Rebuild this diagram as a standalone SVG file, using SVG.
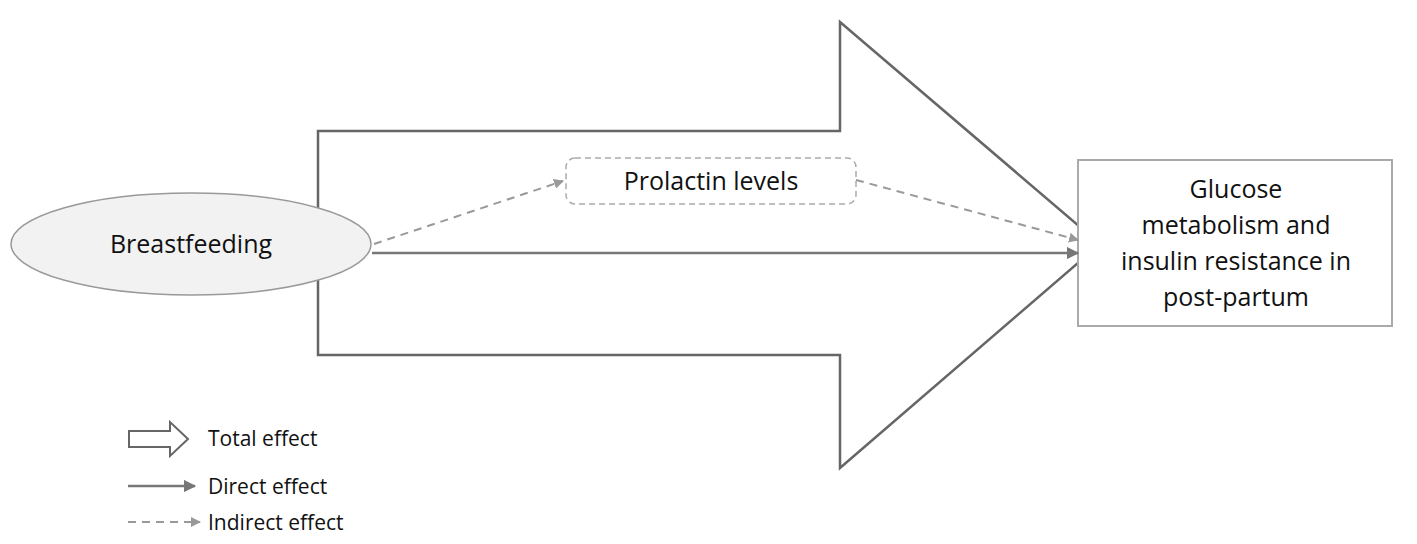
<svg xmlns="http://www.w3.org/2000/svg" width="1417" height="544" viewBox="0 0 1417 544">
<style>
text{font-family:"Open Sans","Liberation Sans",sans-serif;fill:#111}
.big{fill:#fff;stroke:#666;stroke-width:2.5}
.ln{stroke:#777;stroke-width:2.5;fill:none}
.ds{stroke:#999;stroke-width:2;stroke-dasharray:8 6;fill:none}
</style>
<defs>
<marker id="a" viewBox="0 0 10 10" refX="9" refY="5" markerWidth="5" markerHeight="5" orient="auto"><path d="M0,0L10,5L0,10z" fill="#777"/></marker>
<marker id="b" viewBox="0 0 10 10" refX="9" refY="5" markerWidth="5" markerHeight="5" orient="auto"><path d="M0,0L10,5L0,10z" fill="#999"/></marker>
</defs>
<g id="total-arrow"><path class="big" d="M318,131H840V22L1100,244L840,468V355H318Z"/></g>
<g id="breastfeeding"><ellipse cx="191" cy="244" rx="180" ry="51" fill="#f2f2f2" stroke="#999" stroke-width="1.5"/><text x="191" y="253" font-size="25" text-anchor="middle">Breastfeeding</text></g>
<g id="prolactin"><rect x="566" y="158" width="290" height="46" rx="9" fill="#fff" stroke="#aaa" stroke-width="1.5" stroke-dasharray="6 4"/><text x="711" y="190" font-size="25" text-anchor="middle">Prolactin levels</text></g>
<g id="glucose"><rect x="1078" y="160" width="314" height="166" fill="#fff" stroke="#aaa" stroke-width="2"/>
<text font-size="25" text-anchor="middle"><tspan x="1236" y="198">Glucose</tspan><tspan x="1236" y="234">metabolism and</tspan><tspan x="1236" y="270">insulin resistance in</tspan><tspan x="1236" y="306">post-partum</tspan></text></g>
<g id="connectors">
<line class="ln" x1="372" y1="253" x2="1078" y2="253" marker-end="url(#a)"/>
<line class="ds" x1="374" y1="244" x2="563" y2="181" marker-end="url(#b)"/>
<line class="ds" x1="856" y1="180" x2="1078" y2="240" marker-end="url(#b)"/>
</g>
<g id="legend">
<path d="M129,431H170V422L188,439L170,456V447H129Z" fill="#fff" stroke="#666" stroke-width="2"/>
<text x="208" y="446" font-size="21">Total effect</text>
<line class="ln" x1="128" y1="486" x2="195" y2="486" marker-end="url(#a)"/>
<text x="208" y="494" font-size="21">Direct effect</text>
<line class="ds" x1="128" y1="522" x2="200" y2="522" marker-end="url(#b)"/>
<text x="208" y="530" font-size="21">Indirect effect</text>
</g>
</svg>
